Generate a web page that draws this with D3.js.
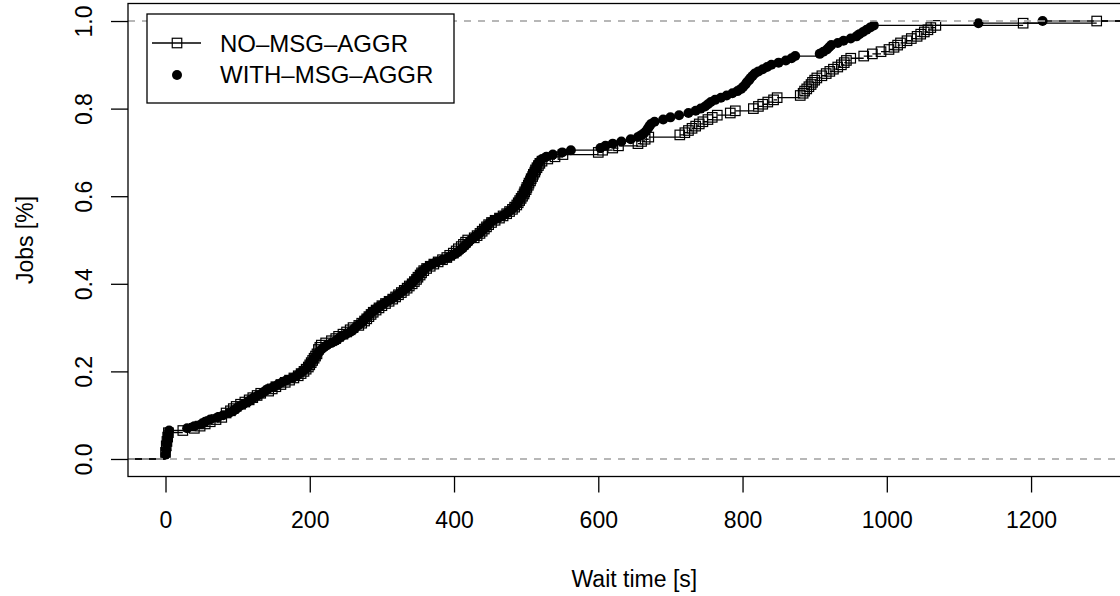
<!DOCTYPE html>
<html>
<head>
<meta charset="utf-8">
<script src="https://cdnjs.cloudflare.com/ajax/libs/d3/7.8.5/d3.min.js"></script>
<style>
body { margin: 0; background: #fff; }
text { font-family: "Liberation Sans", Arial, Helvetica, sans-serif; fill: #000; }
</style>
</head>
<body>
<svg id="chart" width="1120" height="596"></svg>
<script>
//Series names (legend order)
var seriesNames = ["NO\u2013MSG\u2013AGGR", "WITH\u2013MSG\u2013AGGR"];

//Wait times [s] of each job
var noAggrWait = [
	0,0,0,1,1,1,2,2,3,3,4,4,
	24,
	40,48,55,62,70,78,84,
	84,90,94,98,104,110,116,121,127,132,
	143,148,153,160,166,172,178,184,188,192,
	195,198,200,202,204,206,208,210,212,214,
	212,216,222,230,236,240,246,251,256,260,
	268,272,276,279,282,285,288,292,296,300,
	305,310,315,319,323,327,331,335,338,342,
	345,348,350,353,355,358,362,367,372,378,
	384,390,394,399,403,406,410,413,416,419,
	428,432,436,439,442,445,448,452,457,463,
	468,473,477,481,484,487,489,491,493,495,
	497,498,500,501,503,504,506,507,509,510,
	512,513,515,517,519,522,530,540,551,600,
	606,620,628,655,660,665,670,713,720,725,
	730,735,740,745,752,758,765,783,790,815,
	822,828,835,843,848,880,884,886,889,892,
	895,897,900,903,910,916,921,926,932,937,
	941,944,950,968,980,992,1003,1010,1015,1019,
	1028,1034,1042,1047,1052,1057,1061,1068,1189,1291
];

var withAggrWait = [
	0,0,1,1,2,2,2,3,3,4,4,5,5,
	30,40,50,55,62,72,80,
	88,94,98,102,108,114,118,122,128,134,
	138,142,150,156,162,168,176,182,186,190,
	194,197,199,201,204,206,209,211,213,216,
	220,224,230,236,240,244,250,256,260,263,
	267,271,274,277,280,283,286,290,294,298,
	303,308,313,318,322,326,330,334,337,340,
	343,346,349,352,354,357,360,365,370,376,
	384,392,398,403,407,411,414,417,420,423,
	427,431,435,438,441,444,447,450,455,461,
	467,472,476,480,483,486,488,490,492,494,
	496,497,499,500,502,503,505,506,507,509,
	510,512,514,515,517,519,522,528,537,550,
	562,603,610,620,632,645,655,660,664,667,
	669,671,673,678,690,700,712,725,735,742,
	748,752,756,762,770,778,786,793,798,801,
	804,806,809,811,814,817,822,828,834,840,
	850,860,868,873,907,912,917,920,923,932,
	940,950,958,962,967,972,977,982,1127,1216
];

//Axis ticks and labels
var xTicks = [0, 200, 400, 600, 800, 1000, 1200];
var yTicks = [0, 0.2, 0.4, 0.6, 0.8, 1.0];
var yTickLabels = ["0.0", "0.2", "0.4", "0.6", "0.8", "1.0"];
var xTitle = "Wait time [s]";
var yTitle = "Jobs [%]";

//Plot limits (R style, 4% padding)
var xlim = [0, 1300];
var ylim = [0, 1];
var xpad = (xlim[1] - xlim[0]) * 0.04;
var ypad = (ylim[1] - ylim[0]) * 0.04;

var plotLeft = 128, plotRight = 1140.7, plotTop = 3.5, plotBottom = 476.5;

var x = d3.scaleLinear()
	.domain([xlim[0] - xpad, xlim[1] + xpad])
	.range([plotLeft, plotRight]);
var y = d3.scaleLinear()
	.domain([ylim[0] - ypad, ylim[1] + ypad])
	.range([plotBottom, plotTop]);

var svg = d3.select("#chart");

//Clip to plot region
svg.append("clipPath").attr("id", "plot-clip")
	.append("rect")
	.attr("x", plotLeft).attr("y", plotTop)
	.attr("width", plotRight - plotLeft).attr("height", plotBottom - plotTop);

var plot = svg.append("g").attr("clip-path", "url(#plot-clip)");

//Empirical cumulative distribution: one point per distinct value
function ecdf(values) {
	var sorted = values.slice().sort(d3.ascending);
	var n = sorted.length;
	var pts = [];
	sorted.forEach(function (v, i) {
		if (i < n - 1 && sorted[i + 1] === v) return;
		pts.push({ x: v, y: (i + 1) / n });
	});
	return pts;
}

//Horizontal step segments (no verticals), like plot.stepfun
function steps(pts) {
	var left = x.domain()[0] - 100, right = x.domain()[1] + 100;
	var segs = [{ x1: left, x2: pts[0].x, y: 0 }];
	for (var i = 0; i < pts.length; i++) {
		segs.push({ x1: pts[i].x, x2: i < pts.length - 1 ? pts[i + 1].x : right, y: pts[i].y });
	}
	return segs;
}

function drawSteps(pts) {
	plot.append("g").selectAll("line")
		.data(steps(pts))
		.enter().append("line")
		.attr("x1", function (d) { return x(d.x1); })
		.attr("x2", function (d) { return x(d.x2); })
		.attr("y1", function (d) { return y(d.y); })
		.attr("y2", function (d) { return y(d.y); })
		.attr("stroke", "#000")
		.attr("stroke-width", 1.3);
}

function drawRefLines() {
	plot.append("g").selectAll("line")
		.data([0, 1])
		.enter().append("line")
		.attr("x1", plotLeft).attr("x2", plotRight)
		.attr("y1", function (d) { return y(d); })
		.attr("y2", function (d) { return y(d); })
		.attr("stroke", "#b3b3b3")
		.attr("stroke-width", 1.3)
		.attr("stroke-dasharray", "7,7");
}

var sq = 9.5;
var dotR = 5;

//First series: open squares
var noPts = ecdf(noAggrWait);
drawSteps(noPts);
plot.append("g").selectAll("rect")
	.data(noPts)
	.enter().append("rect")
	.attr("x", function (d) { return x(d.x) - sq / 2; })
	.attr("y", function (d) { return y(d.y) - sq / 2; })
	.attr("width", sq).attr("height", sq)
	.attr("fill", "none")
	.attr("stroke", "#000")
	.attr("stroke-width", 1.2);
drawRefLines();

//Second series: filled dots
var withPts = ecdf(withAggrWait);
drawSteps(withPts);
plot.append("g").selectAll("circle")
	.data(withPts)
	.enter().append("circle")
	.attr("cx", function (d) { return x(d.x); })
	.attr("cy", function (d) { return y(d.y); })
	.attr("r", dotR)
	.attr("fill", "#000");
drawRefLines();

//Box
svg.append("rect")
	.attr("x", plotLeft).attr("y", plotTop)
	.attr("width", plotRight - plotLeft).attr("height", plotBottom - plotTop)
	.attr("fill", "none")
	.attr("stroke", "#000")
	.attr("stroke-width", 1.3);

//X axis
var xAxis = svg.append("g")
	.attr("transform", "translate(0," + plotBottom + ")")
	.call(d3.axisBottom(x).tickValues(xTicks).tickSize(16).tickPadding(19).tickFormat(d3.format("d")));
xAxis.select(".domain").remove();
xAxis.selectAll("line").attr("stroke", "#000").attr("stroke-width", 1.3);
xAxis.selectAll("text")
	.style("font-family", "'Liberation Sans', Arial, sans-serif")
	.attr("font-size", 23).attr("fill", "#000");

//Y axis, labels rotated like R's las=0
var yAxis = svg.append("g")
	.attr("transform", "translate(" + plotLeft + ",0)")
	.call(d3.axisLeft(y).tickValues(yTicks).tickSize(17)
		.tickFormat(function (d, i) { return yTickLabels[i]; }));
yAxis.select(".domain").remove();
yAxis.selectAll("line").attr("stroke", "#000").attr("stroke-width", 1.3);
yAxis.selectAll("text")
	.style("font-family", "'Liberation Sans', Arial, sans-serif")
	.attr("font-size", 23).attr("fill", "#000")
	.attr("transform", "rotate(-90)")
	.attr("x", 0).attr("y", -36).attr("dy", 0)
	.attr("text-anchor", "middle");

//Axis titles
svg.append("text")
	.attr("x", (plotLeft + plotRight) / 2).attr("y", 587)
	.attr("text-anchor", "middle")
	.attr("font-size", 23)
	.text(xTitle);

svg.append("text")
	.attr("transform", "translate(33," + (plotTop + plotBottom) / 2 + ") rotate(-90)")
	.attr("text-anchor", "middle")
	.attr("font-size", 23)
	.text(yTitle);

//Legend
var legend = svg.append("g");
legend.append("rect")
	.attr("x", 147).attr("y", 14).attr("width", 307).attr("height", 89)
	.attr("fill", "#fff").attr("stroke", "#000").attr("stroke-width", 1.3);
legend.append("line")
	.attr("x1", 152).attr("x2", 201).attr("y1", 43).attr("y2", 43)
	.attr("stroke", "#000").attr("stroke-width", 1.3);
legend.append("rect")
	.attr("x", 177 - sq / 2).attr("y", 43 - sq / 2).attr("width", sq).attr("height", sq)
	.attr("fill", "none").attr("stroke", "#000").attr("stroke-width", 1.2);
legend.append("circle")
	.attr("cx", 177).attr("cy", 75).attr("r", dotR).attr("fill", "#000");
legend.selectAll("text.key")
	.data(seriesNames)
	.enter().append("text")
	.attr("class", "key")
	.attr("x", 220)
	.attr("y", function (d, i) { return 52 + i * 31; })
	.attr("font-size", 24)
	.text(function (d) { return d; });
</script>
</body>
</html>
